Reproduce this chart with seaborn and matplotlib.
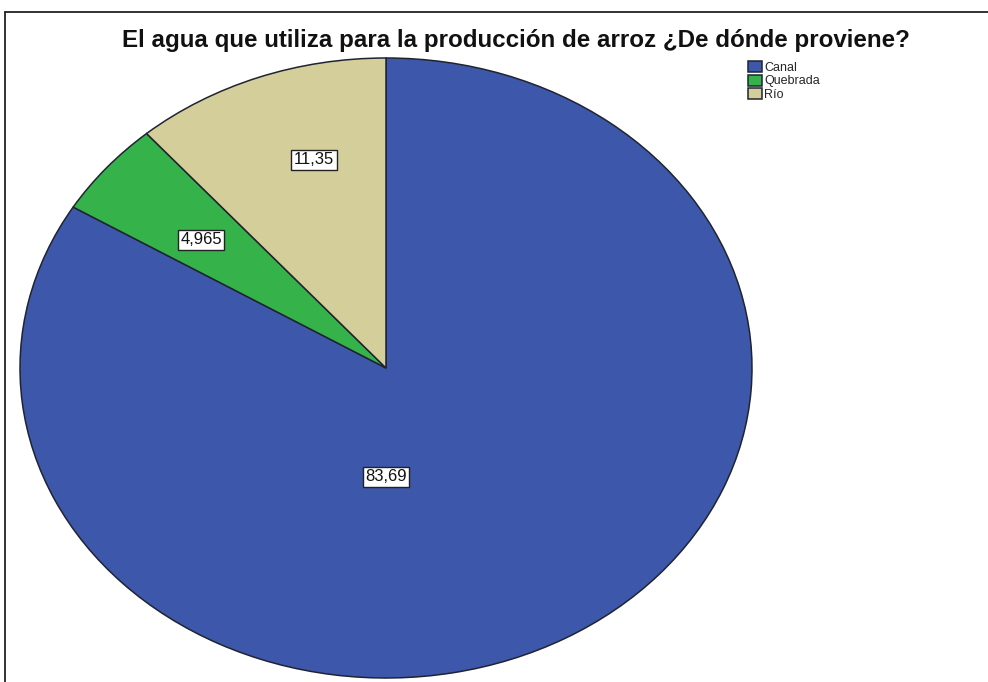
import matplotlib
matplotlib.use("Agg")
import matplotlib.pyplot as plt
from matplotlib.lines import Line2D
import seaborn as sns

# Source of irrigation water for rice production (percent of responses)
categories = ["Canal", "Quebrada", "Río"]
shares = [83.69, 4.965, 11.35]
value_labels = ["83,69", "4,965", "11,35"]
title = "El agua que utiliza para la producción de arroz ¿De dónde proviene?"

colors = ["#3D57AB", "#35B34A", "#D4CF9A"]
edge = "#1F2430"

# label anchor points inside the pie (unit-radius coordinates)
label_xy = [(0.0, -0.35), (-0.505, 0.413), (-0.197, 0.671)]

sns.set_theme(style="white")
plt.rcParams["font.family"] = ["Liberation Sans", "DejaVu Sans"]

W, H = 988, 682
fig = plt.figure(figsize=(W / 100, H / 100), dpi=100)
fig.patch.set_facecolor("white")

# axes box spans the elliptical pie's bounding box (pixels)
x0, x1, ytop, ybot = 20, 752, 58, 678
ax = fig.add_axes([x0 / W, 1 - ybot / H, (x1 - x0) / W, (ybot - ytop) / H])
wedges, _ = ax.pie(
    shares,
    colors=colors,
    startangle=90,
    counterclock=False,
    radius=1.0,
    wedgeprops=dict(edgecolor=edge, linewidth=1.1),
)
ax.set_xlim(-1.0, 1.0)
ax.set_ylim(-1.0, 1.0)
ax.set_aspect("auto")
ax.axis("off")

for (lx, ly), txt in zip(label_xy, value_labels):
    ax.text(lx, ly, txt, ha="center", va="center", fontsize=12, color="#111111",
            bbox=dict(boxstyle="square,pad=0.15", facecolor="white",
                      edgecolor="#222222", linewidth=1.0))

fig.text(516 / W, 1 - 47 / H, title, ha="center", va="baseline",
         fontsize=17.4, fontweight="bold", color="#111111")

fig.legend(wedges, categories, loc="upper left",
           bbox_to_anchor=(748 / W, 1 - 61 / H), frameon=False,
           fontsize=9, handlelength=1.1, handleheight=1.0,
           handletextpad=0.2, labelspacing=0.05, borderpad=0.0,
           borderaxespad=0.0)

# chart frame: top and left rules
fig.add_artist(Line2D([5 / W, 1.0], [1 - 12 / H, 1 - 12 / H], color="#222222", lw=1.3))
fig.add_artist(Line2D([5 / W, 5 / W], [0.0, 1 - 12 / H], color="#222222", lw=1.3))

fig.savefig("out.png", dpi=100, facecolor="white")
